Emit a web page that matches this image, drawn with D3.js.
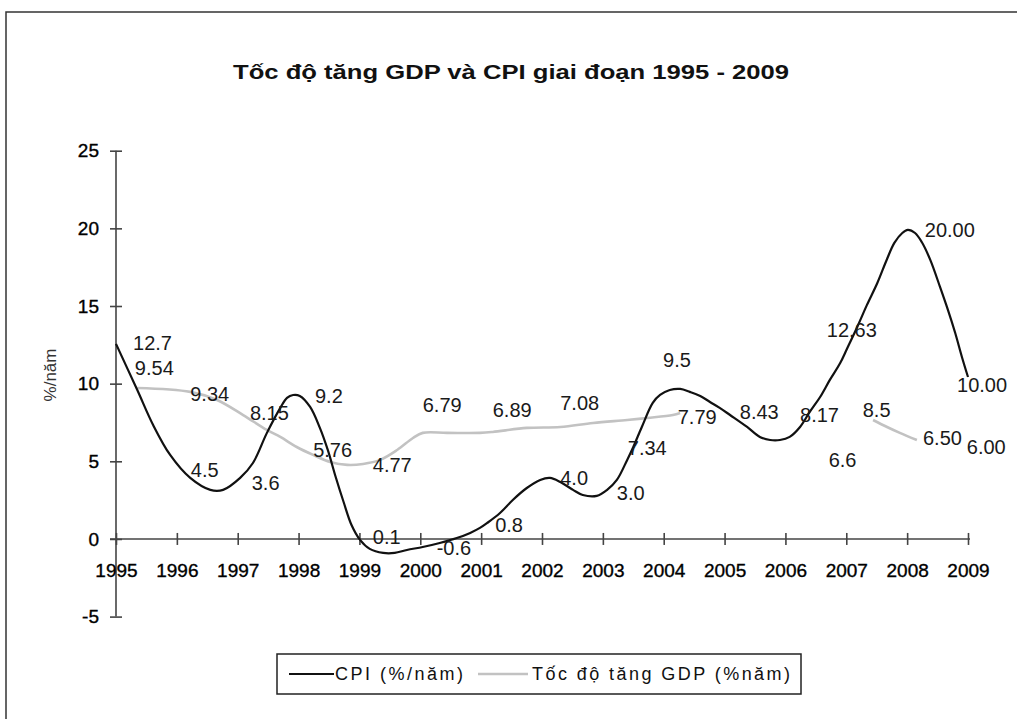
<!DOCTYPE html>
<html>
<head>
<meta charset="utf-8">
<script src="https://cdn.jsdelivr.net/npm/d3@7/dist/d3.min.js"></script>
<style>
  html, body { margin: 0; padding: 0; background: #fff; }
  svg { display: block; }
  text { font-family: "Liberation Sans", Arial, sans-serif; }
</style>
</head>
<body>
<svg id="chart" width="1017" height="719"></svg>
<script>
// ---------------- DATA ----------------
const title = "Tốc độ tăng GDP và CPI giai đoạn 1995 - 2009";
const yAxisTitle = "%/năm";
const years = [1995,1996,1997,1998,1999,2000,2001,2002,2003,2004,2005,2006,2007,2008,2009];
const yTicks = [-5, 0, 5, 10, 15, 20, 25];

// values as written on the chart
const cpi = [12.7, 4.5, 3.6, 9.2, 0.1, -0.6, 0.8, 4.0, 3.0, 9.5, 8.4, 6.6, 12.63, 20.00, 10.00];
const gdp = [9.54, 9.34, 8.15, 5.76, 4.77, 6.79, 6.89, 7.08, 7.34, 7.79, 8.43, 8.17, 8.5, 6.50, 6.00];
const cpiLabelText = ["12.7","4.5","3.6","9.2","0.1","-0.6","0.8","4.0","3.0","9.5",null,"6.6","12.63","20.00","10.00"];
const gdpLabelText = ["9.54","9.34","8.15","5.76","4.77","6.79","6.89","7.08","7.34","7.79","8.43","8.17","8.5","6.50","6.00"];

// where each label sits on the chart, in [year, value] units
const cpiLabelAt = [[1995.28,12.62],[1996.23,4.44],[1997.23,3.61],[1998.27,9.21],[1999.22,0.13],[2000.27,-0.58],
  [2001.23,0.90],[2002.30,3.93],[2003.23,2.96],[2003.99,11.53],null,[2006.71,5.09],[2006.68,13.46],[2008.29,19.90],[2008.82,9.92]];
const gdpLabelAt = [[1995.31,11.01],[1996.22,9.34],[1997.20,8.11],[1998.24,5.73],[1999.22,4.77],[2000.04,8.63],
  [2001.19,8.31],[2002.30,8.76],[2003.41,5.86],[2004.23,7.86],[2005.25,8.18],[2006.24,7.98],[2007.27,8.31],[2008.26,6.50],[2008.98,5.92]];

// the drawn (smoothed) curves as [year, value]
const cpiCurve = [
  [1995.00,12.56],[1995.35,9.59],[1995.61,7.34],[1995.89,5.41],[1996.22,3.93],[1996.55,3.16],[1996.76,3.16],
  [1997.04,3.93],[1997.25,4.89],[1997.48,6.83],[1997.70,8.44],[1997.81,9.08],[1997.91,9.27],[1998.02,9.21],
  [1998.19,8.50],[1998.35,7.15],[1998.48,5.73],[1998.61,3.99],[1998.74,2.38],[1998.87,0.90],[1999.01,-0.06],
  [1999.17,-0.64],[1999.39,-0.90],[1999.58,-0.90],[1999.78,-0.71],[2000.04,-0.52],[2000.32,-0.26],[2000.60,0.06],
  [2000.82,0.39],[2000.98,0.71],[2001.10,1.03],[2001.31,1.67],[2001.52,2.51],[2001.75,3.28],[2001.97,3.80],
  [2002.13,3.93],[2002.30,3.67],[2002.51,3.16],[2002.67,2.83],[2002.90,2.77],[2003.07,3.16],[2003.23,3.80],
  [2003.40,5.09],[2003.50,5.92],[2003.64,7.21],[2003.82,8.76],[2003.94,9.27],[2004.10,9.59],[2004.27,9.66],
  [2004.43,9.47],[2004.60,9.21],[2004.76,8.82],[2004.92,8.44],[2005.09,7.98],[2005.37,7.21],[2005.58,6.57],
  [2005.75,6.37],[2005.91,6.37],[2006.07,6.57],[2006.24,7.21],[2006.40,8.18],[2006.57,9.14],[2006.73,10.24],
  [2006.90,11.33],[2007.01,12.23],[2007.18,13.65],[2007.34,15.07],[2007.51,16.48],[2007.67,18.03],
  [2007.79,19.06],[2007.92,19.70],[2008.01,19.90],[2008.13,19.70],[2008.24,19.12],[2008.38,17.97],[2008.54,16.23],
  [2008.67,14.75],[2008.79,13.26],[2008.90,11.72],[2009.00,10.43]
];
const gdpCurve = [
  [1995.35,9.72],[1996.22,9.47],[1996.66,8.95],[1997.09,7.98],[1997.48,7.02],[1997.70,6.57],[1997.97,5.92],
  [1998.24,5.41],[1998.52,4.96],[1998.80,4.77],[1999.06,4.83],[1999.34,5.09],[1999.62,5.73],[1999.88,6.50],
  [2000.04,6.83],[2000.44,6.83],[2000.98,6.83],[2001.19,6.89],[2001.75,7.15],[2002.30,7.21],[2002.84,7.47],
  [2003.40,7.66],[2003.73,7.79],[2004.15,7.98],[2004.27,8.11],
  null,
  [2007.44,7.66],[2007.67,7.21],[2007.88,6.83],[2008.16,6.37]
];

const seriesNames = ["CPI (%/năm)", "Tốc độ tăng GDP (%năm)"];

// ---------------- DRAW ----------------
const svg = d3.select("#chart");
const x = d3.scaleLinear().domain([1995, 2009]).range([116, 968]);
const y = d3.scaleLinear().domain([-5, 25]).range([616.6, 150.7]);

// outer frame (partial, as in scan)
svg.append("path").attr("d", "M6,719 V12 H1017")
  .attr("fill", "none").attr("stroke", "#333").attr("stroke-width", 1.5);

// title
svg.append("text").attr("x", 511).attr("y", 72).attr("dy", "0.35em")
  .attr("text-anchor", "middle").attr("font-size", 21).attr("font-weight", "bold")
  .attr("fill", "#111").attr("textLength", 556).attr("lengthAdjust", "spacingAndGlyphs")
  .text(title);

// y axis
const gy = svg.append("g").attr("transform", `translate(${x(1995)},0)`)
  .call(d3.axisLeft(y).tickValues(yTicks).tickSize(6).tickFormat(d => String(d)));
gy.select(".domain").attr("d", `M0,${y(25)}V${y(-5)}`).attr("stroke", "#444").attr("stroke-width", 1.6);
gy.selectAll(".tick line").attr("x1", -6).attr("x2", 6).attr("stroke", "#444").attr("stroke-width", 1.6);
gy.selectAll(".tick text").attr("x", -17).attr("font-size", 19).attr("fill", "#000")
  .attr("stroke", "#000").attr("stroke-width", 0.35)
  .attr("font-family", "'Liberation Sans', Arial, sans-serif");

// x axis
const gx = svg.append("g").attr("transform", `translate(0,${y(0)})`)
  .call(d3.axisBottom(x).tickValues(years).tickSize(6).tickFormat(d => String(d)));
gx.select(".domain").attr("d", `M${x(1995) - 6},0H${x(2009) + 2}`).attr("stroke", "#444").attr("stroke-width", 1.6);
gx.selectAll(".tick line").attr("y1", -6).attr("y2", 6).attr("stroke", "#444").attr("stroke-width", 1.6);
gx.selectAll(".tick text").attr("y", 31).attr("dy", "0.35em").attr("font-size", 19).attr("fill", "#000")
  .attr("stroke", "#000").attr("stroke-width", 0.35)
  .attr("font-family", "'Liberation Sans', Arial, sans-serif");

// y axis title
svg.append("text").attr("transform", `translate(50,${375}) rotate(-90)`)
  .attr("text-anchor", "middle").attr("dy", "0.35em").attr("font-size", 17).attr("fill", "#333")
  .text(yAxisTitle);

// lines
const line = d3.line().defined(d => d !== null).x(d => x(d[0])).y(d => y(d[1])).curve(d3.curveCatmullRom.alpha(0.5));
svg.append("path").datum(gdpCurve).attr("d", line)
  .attr("fill", "none").attr("stroke", "#c2c2c2").attr("stroke-width", 2.6);
svg.append("path").datum(cpiCurve).attr("d", line)
  .attr("fill", "none").attr("stroke", "#111").attr("stroke-width", 2.2);

// labels
function drawLabels(texts, at) {
  texts.forEach((t, i) => {
    if (t === null || at[i] === null) return;
    svg.append("text").attr("x", x(at[i][0])).attr("y", y(at[i][1])).attr("dy", "0.35em")
      .attr("font-size", 20).attr("fill", "#1a1a1a").text(t);
  });
}
drawLabels(gdpLabelText, gdpLabelAt);
drawLabels(cpiLabelText, cpiLabelAt);

// legend
const lg = svg.append("g");
lg.append("rect").attr("x", 277).attr("y", 654).attr("width", 524).attr("height", 40)
  .attr("fill", "#fff").attr("stroke", "#222").attr("stroke-width", 1.5);
lg.append("line").attr("x1", 289).attr("x2", 334).attr("y1", 674).attr("y2", 674)
  .attr("stroke", "#111").attr("stroke-width", 2.2);
lg.append("text").attr("x", 335).attr("y", 674).attr("dy", "0.35em").attr("font-size", 18).attr("fill", "#111")
  .attr("textLength", 128).attr("lengthAdjust", "spacing").text(seriesNames[0]);
lg.append("line").attr("x1", 478).attr("x2", 528).attr("y1", 674).attr("y2", 674)
  .attr("stroke", "#c2c2c2").attr("stroke-width", 2.6);
lg.append("text").attr("x", 532).attr("y", 674).attr("dy", "0.35em").attr("font-size", 18).attr("fill", "#111")
  .attr("textLength", 258).attr("lengthAdjust", "spacing").text(seriesNames[1]);
</script>
</body>
</html>
